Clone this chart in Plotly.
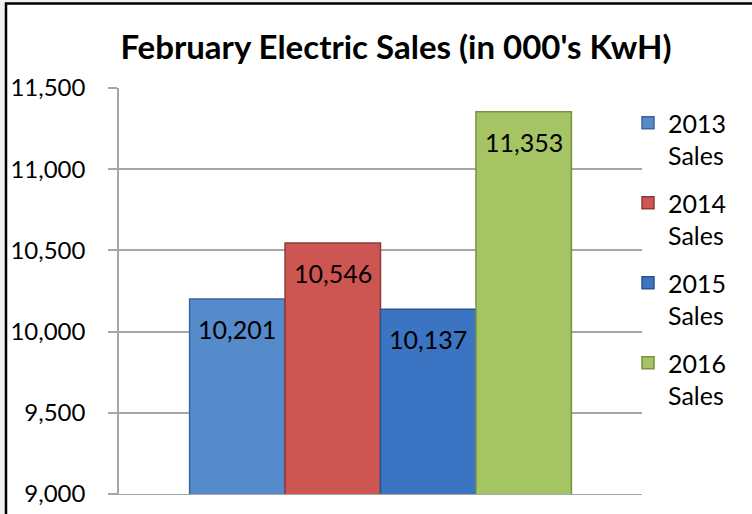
import plotly.graph_objects as go

categories = ["February"]
series_names = ["2013<br>Sales", "2014<br>Sales", "2015<br>Sales", "2016<br>Sales"]
series_values = [10201, 10546, 10137, 11353]
tick_values = [9000, 9500, 10000, 10500, 11000, 11500]
tick_labels = ["9,000", "9,500", "10,000", "10,500", "11,000", "11,500"]

fill_colors = ["#558ACB", "#CD5552", "#3A74C2", "#A5C464"]
line_colors = ["#3C6699", "#8E3B39", "#2B5590", "#789340"]

FONT = "Lato"
W, H = 752, 514
L, R, T, B = 119, 110, 88, 20
bargap = 0.27

fig = go.Figure()
n = len(series_values)
bw = (1 - bargap) / n
for i, (name, v) in enumerate(zip(series_names, series_values)):
    fig.add_trace(go.Bar(
        x=[0], y=[v], name=name, legendgroup=f"g{i}",
        marker=dict(color=fill_colors[i], line=dict(color=line_colors[i], width=1.5)),
        hoverinfo="y",
    ))
    fig.add_annotation(
        x=-(1 - bargap) / 2 + bw * (i + 0.5), y=v, xref="x", yref="y",
        text=f"{v:,}", showarrow=False, yanchor="middle", yshift=-30,
        font=dict(family=FONT, size=25, color="#000000"),
    )

pw = W - L - R
ph = H - T - B
# frame (left + top border)
fig.add_shape(type="rect", xref="paper", yref="paper",
              x0=(6 - L) / pw, x1=(760 - L) / pw,
              y0=(H - B - 530) / ph, y1=(H - B - 3.5) / ph,
              line=dict(color="#000000", width=2.5), fillcolor="#FFFFFF", layer="below")

fig.update_layout(
    width=W, height=H,
    margin=dict(l=L, r=R, t=T, b=B, autoexpand=False),
    paper_bgcolor="#F0F0F0",
    plot_bgcolor="rgba(0,0,0,0)",
    barmode="group", bargap=bargap, bargroupgap=0,
    title=dict(text="<b>February Electric Sales (in 000's KwH)</b>",
               x=396 / W, xanchor="center", y=1 - 47 / H, yanchor="middle",
               font=dict(family=FONT, size=33, color="#000000")),
    font=dict(family=FONT, size=25, color="#000000"),
    xaxis=dict(range=[-0.5, 0.5], showticklabels=False, showgrid=False, zeroline=False,
               showline=True, linecolor="#A6A6A6", linewidth=1, ticks="", automargin=False),
    yaxis=dict(range=[9000, 11500], tickvals=tick_values, ticktext=tick_labels,
               showgrid=True, gridcolor="#A6A6A6", gridwidth=1.5,
               showline=True, linecolor="#A6A6A6", linewidth=1.5,
               ticks="outside", ticklen=9, tickcolor="#A6A6A6", tickwidth=1.5,
               ticklabelstandoff=18, zeroline=False, automargin=False,
               tickfont=dict(family=FONT, size=24, color="#000000")),
    legend=dict(x=(628 - L) / pw, xanchor="left", y=(H - B - 100) / ph, yanchor="top",
                valign="top", tracegroupgap=12, itemwidth=30,
                bgcolor="rgba(0,0,0,0)",
                font=dict(family=FONT, size=25, color="#000000")),
    showlegend=True,
)

fig.write_html("out.html", config={"displayModeBar": False},
               post_script="document.body.style.margin='0';document.body.style.overflow='hidden';")
